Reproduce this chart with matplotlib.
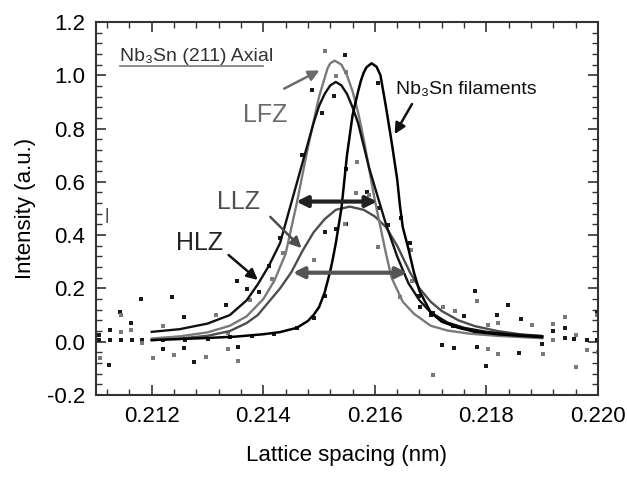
import matplotlib
matplotlib.use("Agg")
import matplotlib.pyplot as plt
from matplotlib.ticker import MultipleLocator, FormatStrFormatter

plt.rcParams['font.family'] = ['Liberation Sans', 'DejaVu Sans']
plt.rcParams['axes.unicode_minus'] = False

# fitted curves
fil_x = [0.2120, 0.2125, 0.2130, 0.2135, 0.2140, 0.2143, 0.2146, 0.2148, 0.2149, 0.2150, 0.2151,
         0.2152, 0.21525, 0.2153, 0.2154, 0.21545, 0.2155, 0.2156, 0.2157, 0.21575, 0.2158,
         0.21585, 0.21594, 0.21603, 0.2161,
         0.2162, 0.2163, 0.2164, 0.21645, 0.2165, 0.2166, 0.2167, 0.2168, 0.2170, 0.2172,
         0.2175, 0.2178, 0.2182, 0.2186, 0.2190]
fil_y = [0.006, 0.010, 0.014, 0.019, 0.028, 0.036, 0.052, 0.078, 0.100, 0.130, 0.185,
         0.265, 0.315, 0.370, 0.500, 0.600, 0.700, 0.850, 0.940, 0.980, 1.010,
         1.030, 1.045, 1.032, 1.000,
         0.880, 0.750, 0.610, 0.510, 0.430, 0.350, 0.260, 0.190, 0.110, 0.075,
         0.052, 0.037, 0.028, 0.022, 0.017]

hlz_x = [0.2120, 0.2125, 0.2130, 0.2134, 0.2137, 0.2139, 0.2141, 0.2143, 0.2145, 0.2147,
         0.2149, 0.2150, 0.2151, 0.2152, 0.2153, 0.2154, 0.2155, 0.2156, 0.2157, 0.2159,
         0.2161, 0.2162, 0.2164, 0.2166,
         0.2168, 0.2170, 0.2173, 0.2176, 0.2180, 0.2185, 0.2190]
hlz_y = [0.037, 0.047, 0.068, 0.100, 0.155, 0.215, 0.285, 0.370, 0.520, 0.670,
         0.820, 0.885, 0.930, 0.962, 0.975, 0.962, 0.930, 0.880, 0.820, 0.650,
         0.510, 0.440, 0.320, 0.220,
         0.155, 0.110, 0.072, 0.052, 0.037, 0.027, 0.021]

lfz_x = [0.2120, 0.2125, 0.2130, 0.2134, 0.2137, 0.2140, 0.2142, 0.2144, 0.2146, 0.2148,
         0.2150, 0.2151, 0.21515, 0.2152, 0.21528, 0.2154, 0.2155, 0.2156, 0.2157, 0.2158,
         0.2160, 0.2162, 0.2163, 0.2165,
         0.2167, 0.2170, 0.2173, 0.2177, 0.2182, 0.2190]
lfz_y = [0.012, 0.020, 0.035, 0.060, 0.095, 0.160, 0.230, 0.330, 0.520, 0.730,
         0.920, 0.990, 1.025, 1.045, 1.055, 1.040, 1.000, 0.940, 0.860, 0.760,
         0.530, 0.330, 0.240, 0.150,
         0.105, 0.060, 0.042, 0.030, 0.022, 0.013]

llz_x = [0.2120, 0.2125, 0.2130, 0.2134, 0.2137, 0.2139, 0.2141, 0.2143, 0.2145, 0.2147,
         0.2149, 0.2151, 0.2153, 0.21555, 0.2158, 0.2160, 0.2162, 0.2164, 0.21663, 0.2168,
         0.2170, 0.2172, 0.2175, 0.2178, 0.2182, 0.2186, 0.2190]
llz_y = [0.006, 0.012, 0.022, 0.040, 0.070, 0.100, 0.150, 0.200, 0.260, 0.340,
         0.410, 0.460, 0.495, 0.507, 0.495, 0.470, 0.430, 0.360, 0.260, 0.200,
         0.150, 0.115, 0.080, 0.058, 0.040, 0.028, 0.021]

# measured points
blk_x = [0.21105, 0.21105, 0.21123, 0.21125, 0.21125, 0.21144, 0.21143, 0.21162, 0.21164, 0.21181,
         0.21182, 0.21221, 0.21237, 0.21258, 0.21258, 0.21276, 0.21333, 0.21352, 0.21355, 0.21370,
         0.21393, 0.21411, 0.21430,
         0.2122, 0.2126, 0.2130, 0.2134, 0.2138, 0.2142, 0.2146, 0.2149, 0.2151, 0.21549,
         0.21605, 0.21646, 0.21663, 0.2168, 0.2170, 0.2174, 0.2178, 0.2184, 0.2188,
         0.21546, 0.21488, 0.21526, 0.21506, 0.21469, 0.21567, 0.21585, 0.21606, 0.21549, 0.21530,
         0.21511, 0.21624, 0.21681, 0.21705,
         0.21779, 0.21838, 0.21760, 0.21819, 0.21862, 0.21920, 0.21940, 0.21940, 0.21957, 0.21981,
         0.21998, 0.21998, 0.21900, 0.21858, 0.21783, 0.21800, 0.21741, 0.21721]
blk_y = [0.025, 0.006, -0.087, 0.044, 0.006, 0.006, 0.113, 0.071, 0.006, 0.160,
         0.006, -0.029, 0.169, 0.094, -0.025, -0.075, 0.138, 0.229, -0.019, 0.197,
         0.188, 0.284, 0.388,
         0.006, 0.008, 0.012, 0.016, 0.022, 0.030, 0.050, 0.090, 0.170, 0.647,
         0.970, 0.463, 0.369, 0.170, 0.100, 0.060, 0.040, 0.030, 0.022,
         1.076, 0.945, 0.922, 0.860, 0.700, 0.557, 0.563, 0.500, 0.441, 0.422,
         0.411, 0.438, 0.131, 0.107,
         0.191, 0.138, 0.098, 0.099, 0.086, 0.040, 0.050, 0.015, 0.009, 0.006,
         0.113, 0.006, -0.010, -0.044, -0.021, -0.091, -0.025, -0.012]

gry_x = [0.21107, 0.21144, 0.21145, 0.21162, 0.21183, 0.21202, 0.21221, 0.21239, 0.21297, 0.21316,
         0.21336, 0.21336, 0.21355, 0.21377, 0.21415, 0.21436, 0.21490,
         0.21511, 0.21549, 0.21530, 0.21568, 0.21567, 0.21590, 0.21546, 0.21606, 0.21664, 0.21666,
         0.21645,
         0.21783, 0.21723, 0.21744, 0.21820, 0.21803, 0.21881, 0.21920, 0.21940, 0.21961, 0.21920,
         0.21981, 0.22000, 0.21961, 0.21902, 0.21820, 0.21802, 0.21705, 0.21998]
gry_y = [-0.062, 0.0375, 0.100, 0.044, -0.006, -0.062, 0.059, -0.050, -0.059, 0.100,
         -0.029, 0.031, -0.071, 0.157, 0.235, 0.332, 0.308,
         1.092, 1.014, 0.997, 0.676, 0.557, 0.551, 0.442, 0.357, 0.344, 0.229,
         0.169,
         0.153, 0.129, 0.116, 0.069, 0.063, 0.063, 0.066, 0.094, 0.025, 0.006,
         -0.031, -0.038, -0.096, -0.046, -0.046, -0.029, -0.125, 0.100]

fig = plt.figure(figsize=(6.27, 4.79), dpi=100)
ax = fig.add_axes([0.1531, 0.1754, 0.8006, 0.7787])

ax.plot(blk_x, blk_y, 's', color='#1a1a1a', ms=2.8, mew=0)
ax.plot(gry_x, gry_y, 's', color='#7a7a7a', ms=2.8, mew=0)

ax.plot(llz_x, llz_y, color='#4d4d4d', lw=1.7)
ax.plot(lfz_x, lfz_y, color='#7a7a7a', lw=1.7)
ax.plot(hlz_x, hlz_y, color='#111111', lw=1.7)
ax.plot(fil_x, fil_y, color='#000000', lw=1.8)

ax.set_xlim(0.211, 0.220)
ax.set_ylim(-0.2, 1.2)
ax.xaxis.set_major_locator(MultipleLocator(0.002))
ax.xaxis.set_minor_locator(MultipleLocator(0.0004))
ax.yaxis.set_major_locator(MultipleLocator(0.2))
ax.yaxis.set_minor_locator(MultipleLocator(0.04))
ax.xaxis.set_major_formatter(FormatStrFormatter('%.3f'))
ax.yaxis.set_major_formatter(FormatStrFormatter('%.1f'))
ax.tick_params(which='both', direction='in', top=True, right=True, color='#333333')
ax.tick_params(which='major', length=7, width=1.2, labelsize=16, pad=8)
ax.tick_params(which='minor', length=4, width=1.0)
for sp in ax.spines.values():
    sp.set_color('#333333')
    sp.set_linewidth(1.5)

ax.set_xlabel('Lattice spacing (nm)', fontsize=16)
ax.set_ylabel('Intensity (a.u.)', fontsize=16)
ax.xaxis.set_label_coords(0.5, -0.135)
ax.yaxis.set_label_coords(-0.12, 0.5)

# labels and arrows
ax.text(0.21143, 1.07, 'Nb\u2083Sn (211) Axial', fontsize=14, color='#333333', va='center')
ax.plot([0.048, 0.333], [0.883, 0.883], color='#777777', lw=1.2, transform=ax.transAxes)
ax.text(0.21119, 0.475, '|', fontsize=12, color='#333333', ha='center', va='center')

ax.text(0.21403, 0.85, 'LFZ', fontsize=18, color='#6b6b6b', ha='center', va='center')
ax.annotate('', xy=(0.21505, 1.023), xytext=(0.21433, 0.945),
            arrowprops=dict(arrowstyle='-|>', color='#6b6b6b', lw=1.8, mutation_scale=16))

ax.text(0.21355, 0.526, 'LLZ', fontsize=18, color='#4d4d4d', ha='center', va='center')
ax.annotate('', xy=(0.21472, 0.344), xytext=(0.21409, 0.476),
            arrowprops=dict(arrowstyle='-|>', color='#4d4d4d', lw=1.8, mutation_scale=16))

ax.text(0.21286, 0.369, 'HLZ', fontsize=18, color='#222222', ha='center', va='center')
ax.annotate('', xy=(0.21394, 0.225), xytext=(0.21334, 0.332),
            arrowprops=dict(arrowstyle='-|>', color='#111111', lw=1.8, mutation_scale=16))

ax.text(0.21764, 0.945, 'Nb\u2083Sn filaments', fontsize=14, color='#111111',
        ha='center', va='center')
ax.annotate('', xy=(0.21633, 0.77), xytext=(0.21669, 0.901),
            arrowprops=dict(arrowstyle='-|>', color='#111111', lw=1.8, mutation_scale=16))

# FWHM arrows
ax.annotate('', xy=(0.21609, 0.526), xytext=(0.21454, 0.526),
            arrowprops=dict(arrowstyle='<|-|>', color='#222222', lw=3, mutation_scale=16))
ax.annotate('', xy=(0.21663, 0.259), xytext=(0.21448, 0.259),
            arrowprops=dict(arrowstyle='<|-|>', color='#555555', lw=3, mutation_scale=16))

fig.savefig('out.png', dpi=100)
